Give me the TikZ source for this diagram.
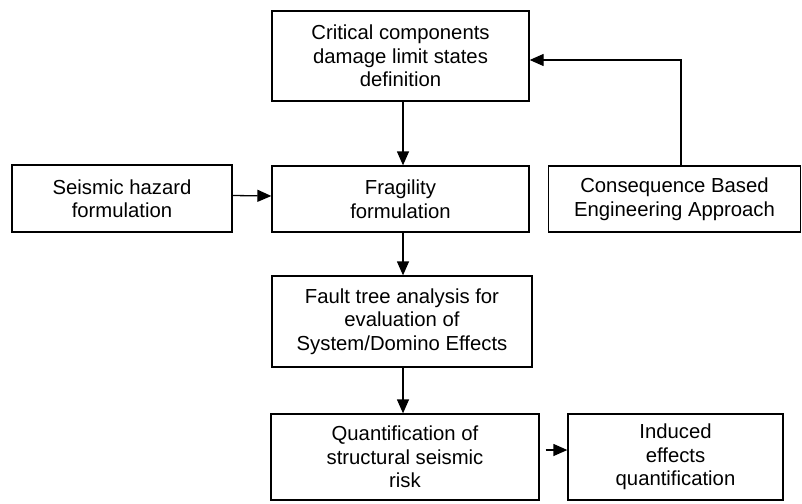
\documentclass[tikz,border=0pt]{standalone}
\usepackage{fontspec}
\setmainfont{Liberation Sans}
\usetikzlibrary{arrows.meta}
\begin{document}
\begin{tikzpicture}[x=1pt,y=1pt,
  box/.style={draw,line width=1.3pt,inner sep=0pt,align=center,
    font=\fontsize{20.3}{23.5}\selectfont},
  arr/.style={line width=1.3pt,-{Triangle[length=14pt,width=12pt]}}]
\useasboundingbox (0,0) rectangle (802,-503);
\node[box,minimum width=257,minimum height=90] (A) at (400.5,-56) {Critical components\\damage limit states\\definition};
\node[box,minimum width=220,minimum height=67] (B) at (122,-198.5) {Seismic hazard\\formulation};
\node[box,minimum width=257,minimum height=66] (C) at (400.5,-199) {Fragility\\formulation};
\node[box,minimum width=252,minimum height=66] (D) at (674.5,-199) {Consequence Based\\Engineering Approach};
\node[box,minimum width=260,minimum height=91] (E) at (402,-321.5) {Fault tree analysis for\\evaluation of\\System/Domino Effects};
\node[box,minimum width=268,minimum height=86] (F) at (405,-457) {Quantification of\\structural seismic\\risk};
\node[box,minimum width=215,minimum height=86] (G) at (675.5,-457) {Induced\\effects\\quantification};
\draw[arr] ([xshift=2.5pt]A.south) -- ([xshift=2.5pt]C.north);
\draw[arr] ([yshift=3pt]B.east) -- ([yshift=3pt]C.west);
\draw[arr] ([xshift=6.5pt]D.north) |- ([yshift=-4pt]A.east);
\draw[arr] ([xshift=2.5pt]C.south) -- ([xshift=2.5pt]C.south |- E.north);
\draw[arr] ([xshift=1pt]E.south) -- ([xshift=1pt]E.south |- F.north);
\draw[arr,shorten <=6pt] ([yshift=7pt]F.east) -- ([yshift=7pt]G.west);
\end{tikzpicture}
\end{document}
